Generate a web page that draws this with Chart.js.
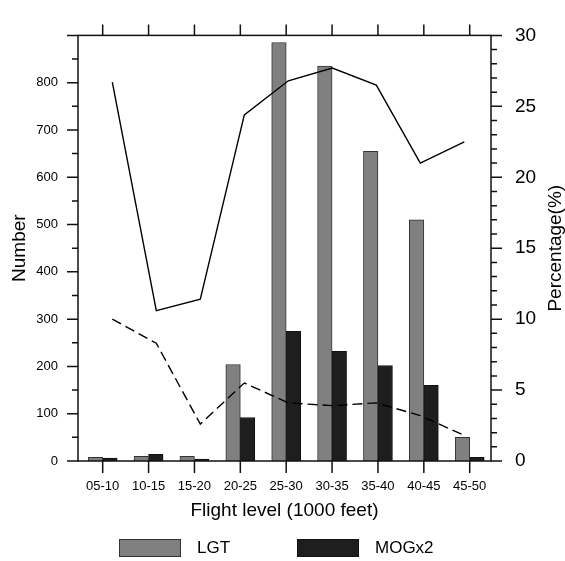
<!DOCTYPE html>
<html>
<head>
<meta charset="utf-8">
<script src="https://cdn.jsdelivr.net/npm/chart.js@4"></script>
<style>
  body { margin: 0; background: #fff; }
</style>
</head>
<body>
<canvas id="myChart" width="565" height="561"></canvas>
<script>
const levels = ['05-10', '10-15', '15-20', '20-25', '25-30', '30-35', '35-40', '40-45', '45-50'];
const lgtCounts = [8, 10, 10, 204, 885, 835, 655, 510, 50];
const mogCounts = [6, 14, 4, 92, 274, 232, 202, 160, 8];
const solidPct = [26.7, 10.6, 11.4, 24.4, 26.8, 27.7, 26.5, 21.0, 22.5];
const dashedPct = [10.0, 8.3, 2.6, 5.5, 4.1, 3.9, 4.1, 3.2, 1.8];
const numberTicks = [0, 100, 200, 300, 400, 500, 600, 700, 800];
const pctTicks = [0, 5, 10, 15, 20, 25, 30];

Chart.defaults.font.family = '"Liberation Sans", Arial, Helvetica, sans-serif';
Chart.defaults.color = '#000';

// bars sit on level index, lines are a bit offset like the original overlay
const toXY = arr => arr.map((v, i) => ({ x: i, y: v }));

// frame, outward ticks, right title and legend
const decor = {
  id: 'decor',
  afterDraw(chart) {
    const { ctx, chartArea: a, scales } = chart;
    ctx.save();
    ctx.strokeStyle = '#111';
    ctx.lineWidth = 1.5;
    ctx.strokeRect(a.left, a.top, a.right - a.left, a.bottom - a.top);
    ctx.beginPath();
    levels.forEach((_, i) => {
      const px = scales.x.getPixelForValue(i);
      ctx.moveTo(px, a.bottom); ctx.lineTo(px, a.bottom + 12);
      ctx.moveTo(px, a.top); ctx.lineTo(px, a.top - 11);
    });
    for (let v = 0; v <= scales.y.max; v += 50) {
      const py = scales.y.getPixelForValue(v);
      ctx.moveTo(a.left, py); ctx.lineTo(a.left - (v % 100 === 0 ? 11 : 6), py);
    }
    for (let v = 0; v <= scales.y1.max; v += 1) {
      const py = scales.y1.getPixelForValue(v);
      ctx.moveTo(a.right, py); ctx.lineTo(a.right + (v % 5 === 0 ? 11 : 6), py);
    }
    ctx.stroke();

    // right axis title reads bottom to top
    ctx.fillStyle = '#000';
    ctx.font = '19px ' + Chart.defaults.font.family;
    ctx.textAlign = 'center';
    ctx.textBaseline = 'middle';
    ctx.translate(556, (a.top + a.bottom) / 2);
    ctx.rotate(-Math.PI / 2);
    ctx.fillText('Percentage(%)', 0, 0);
    ctx.restore();

    // legend for the two bar series
    ctx.save();
    ctx.font = '17px ' + Chart.defaults.font.family;
    ctx.textBaseline = 'middle';
    ctx.lineWidth = 1;
    const ly = chart.height - 22;
    [[119, 0], [297, 1]].forEach(([lx, di]) => {
      const ds = chart.data.datasets[di + 2];
      ctx.fillStyle = ds.backgroundColor;
      ctx.strokeStyle = ds.borderColor;
      ctx.fillRect(lx, ly, 62, 18);
      ctx.strokeRect(lx + 0.5, ly + 0.5, 61, 17);
      ctx.fillStyle = '#000';
      ctx.fillText(ds.label, lx + 78, ly + 9);
    });
    ctx.restore();
  }
};

const ctx = document.getElementById('myChart').getContext('2d');
const myChart = new Chart(ctx, {
  type: 'bar',
  data: {
    datasets: [
      {
        type: 'line', label: 'ratio', data: toXY(solidPct),
        xAxisID: 'xl', yAxisID: 'y1',
        borderColor: '#000', borderWidth: 1.4, pointRadius: 0, tension: 0, order: 0
      },
      {
        type: 'line', label: 'ratio2', data: toXY(dashedPct),
        xAxisID: 'xl', yAxisID: 'y1',
        borderColor: '#000', borderWidth: 1.4, borderDash: [10, 5], pointRadius: 0, tension: 0, order: 0
      },
      {
        label: 'LGT', data: toXY(lgtCounts), xAxisID: 'x', yAxisID: 'y',
        backgroundColor: '#808080', borderColor: '#333', borderWidth: 1, order: 1
      },
      {
        label: 'MOGx2', data: toXY(mogCounts), xAxisID: 'x', yAxisID: 'y',
        backgroundColor: '#1e1e1e', borderColor: '#111', borderWidth: 1, order: 1
      }
    ]
  },
  options: {
    responsive: false,
    animation: false,
    layout: { padding: { top: 15, bottom: 22, left: 0, right: 0 } },
    datasets: { bar: { barThickness: 14.5 } },
    plugins: { legend: { display: false }, tooltip: { enabled: false } },
    scales: {
      x: {
        type: 'linear', position: 'bottom', offset: false,
        min: -0.5384, max: 8.4643,
        grid: { display: false, drawTicks: false },
        border: { display: false },
        afterBuildTicks: s => { s.ticks = levels.map((_, i) => ({ value: i })); },
        afterFit: s => { s.height = 78; },
        ticks: { font: { size: 13 }, padding: 18, maxRotation: 0, autoSkip: false, callback: v => levels[v] },
        title: { display: true, text: 'Flight level (1000 feet)', font: { size: 19 }, padding: { top: 0, bottom: 17 } }
      },
      xl: {
        type: 'linear', display: false, offset: false, min: -0.7796, max: 8.6068
      },
      y: {
        position: 'left', min: 0, max: 900,
        grid: { display: false, drawTicks: false },
        border: { display: false },
        afterBuildTicks: s => { s.ticks = numberTicks.map(v => ({ value: v })); },
        afterFit: s => { s.width = 78; },
        ticks: { font: { size: 13 }, padding: 20 },
        title: { display: true, text: 'Number', font: { size: 19 }, padding: { top: 8, bottom: 0 } }
      },
      y1: {
        position: 'right', min: 0, max: 30,
        grid: { display: false, drawTicks: false },
        border: { display: false },
        afterBuildTicks: s => { s.ticks = pctTicks.map(v => ({ value: v })); },
        afterFit: s => { s.width = 74; },
        ticks: { font: { size: 19 }, padding: 24 }
      }
    }
  },
  plugins: [decor]
});
</script>
</body>
</html>
